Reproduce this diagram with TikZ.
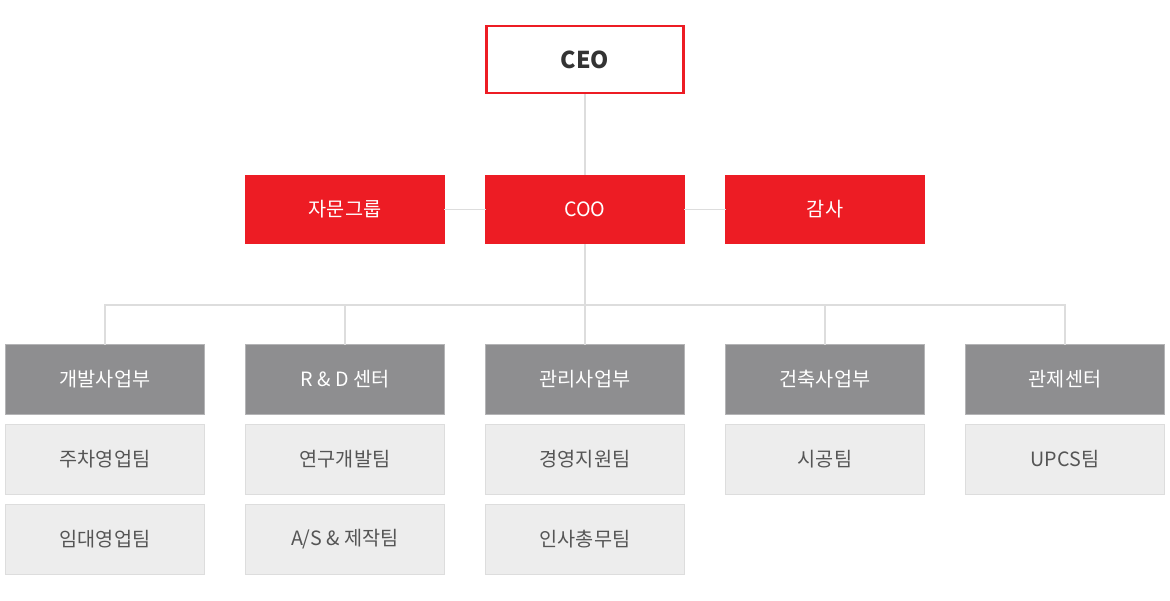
\documentclass[tikz,border=0pt]{standalone}
\usepackage{fontspec}
\setmainfont{Noto Sans CJK KR}
\usetikzlibrary{calc}
\definecolor{RedCore}{HTML}{ED1C24}
\definecolor{GrayDept}{HTML}{8E8E90}
\definecolor{GrayEdge}{HTML}{B4B4B6}
\definecolor{GrayTeam}{HTML}{EDEDED}
\definecolor{GrayLine}{HTML}{DDDDDD}
\definecolor{InkDark}{HTML}{333333}
\definecolor{InkMid}{HTML}{555555}

\begin{document}
\begin{tikzpicture}[
  x=0.025cm, y=-0.025cm,
  line cap=rect, line join=miter,
  box/.style={minimum width=4.99cm, minimum height=1.74cm, inner sep=0pt,
    font=\fontsize{14pt}{16pt}\selectfont},
  topbox/.style={box, draw=RedCore, line width=2.1pt, fill=white,
    minimum width=4.925cm, minimum height=1.675cm, text=InkDark,
    font=\fontsize{16.5pt}{19pt}\selectfont\bfseries},
  redbox/.style={box, fill=RedCore, text=white},
  deptbox/.style={box, fill=GrayDept, draw=GrayEdge, line width=0.5pt, text=white},
  teambox/.style={box, fill=GrayTeam, draw=GrayLine, line width=0.7pt, text=InkMid},
  link/.style={GrayLine, line width=1.4pt}
]

% === Canvas ===
\useasboundingbox (0,0) rectangle (1170,600);

% === Top level ===
\node[topbox] (ceo) at (585,59.5) {CEO};

% === Second row ===
\node[redbox] (adv) at (345,209.5) {자문그룹};
\node[redbox] (coo) at (585,209.5) {COO};
\node[redbox] (aud) at (825,209.5) {감사};

% === Departments ===
\foreach \n/\x/\t in {d1/105/개발사업부, d2/345/R \& D 센터, d3/585/관리사업부,
                      d4/825/건축사업부, d5/1065/관제센터} {
  \node[deptbox] (\n) at (\x,379.5) {\t};
}

% === Teams ===
\node[teambox] (t11) at (105,459.5) {주차영업팀};
\node[teambox] (t12) at (105,539.5) {임대영업팀};
\node[teambox] (t21) at (345,459.5) {연구개발팀};
\node[teambox] (t22) at (345,539.5) {A/S \& 제작팀};
\node[teambox] (t31) at (585,459.5) {경영지원팀};
\node[teambox] (t32) at (585,539.5) {인사총무팀};
\node[teambox] (t41) at (825,459.5) {시공팀};
\node[teambox] (t51) at (1065,459.5) {UPCS팀};

% === Connectors ===
\draw[link] (ceo.south) -- (coo.north);
\draw[link] (adv.east) -- (coo.west);
\draw[link] (coo.east) -- (aud.west);

\coordinate (bar) at (585,305);
\foreach \n in {d1,d2,d3,d4,d5} {
  \draw[link] (coo.south) |- (bar) -| (\n.north);
}

\end{tikzpicture}
\end{document}
